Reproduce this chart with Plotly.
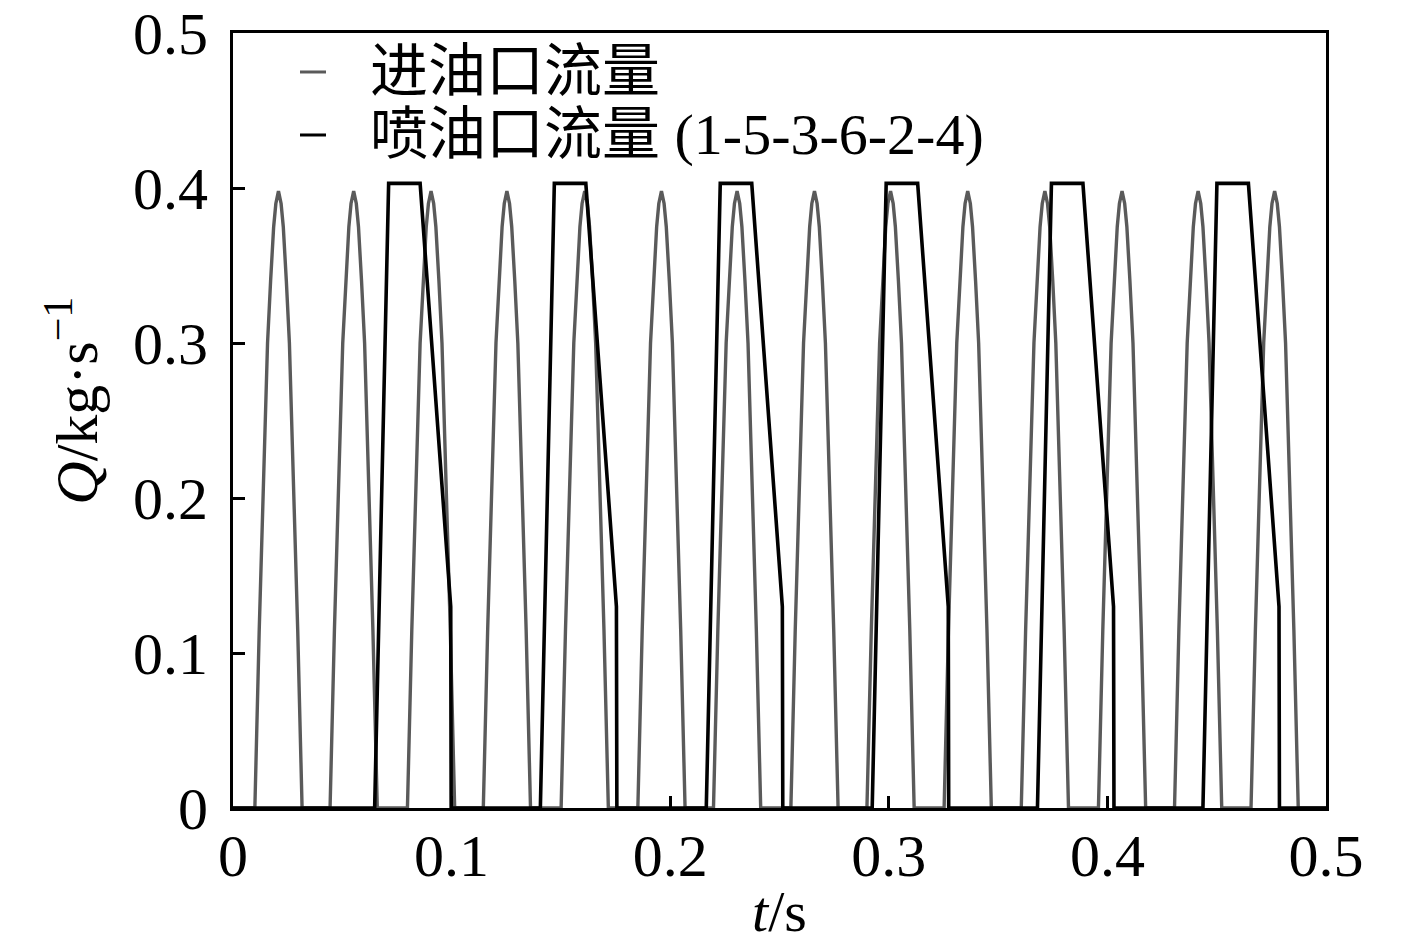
import plotly.graph_objects as go

# gray pulses: peak times, plus one pulse profile
gray_peak_t = [0.0208, 0.0552, 0.0906, 0.1253, 0.1609, 0.1960, 0.2306,
               0.2660, 0.3008, 0.3361, 0.3714, 0.4067, 0.4415, 0.4765]
gray_offset = [-0.0108, -0.0088, -0.0050, -0.0036, -0.0022, -0.0012, 0.0,
               0.0012, 0.0022, 0.0036, 0.0050, 0.0088, 0.0108]
gray_shape = [0.0, 0.115, 0.300, 0.340, 0.375, 0.390, 0.398,
              0.390, 0.375, 0.340, 0.300, 0.115, 0.0]

# black pulses: rise start times, plus one trapezoid-like profile
black_start_t = [0.0648, 0.1406, 0.2165, 0.2924, 0.3680, 0.4437]
black_offset = [0.0, 0.0064, 0.0208, 0.0348, 0.0350]
black_shape = [0.0, 0.403, 0.403, 0.130, 0.0]

names = ['进油口流量', '喷油口流量 (1-5-3-6-2-4)']
colors = ['#5a5a5a', '#000000']


def build(starts, offsets, shape):
    xs, ys = [0.0], [0.0]
    for s in starts:
        for o, v in zip(offsets, shape):
            xs.append(s + o)
            ys.append(v)
    xs.append(0.5)
    ys.append(0.0)
    return xs, ys


gx, gy = build(gray_peak_t, gray_offset, gray_shape)
bx, by = build(black_start_t, black_offset, black_shape)

font_family = 'Liberation Serif, Times New Roman, Noto Sans CJK SC, serif'

fig = go.Figure()
fig.add_trace(go.Scatter(x=gx, y=gy, mode='lines', name=names[0],
                         line=dict(color=colors[0], width=3.4)))
fig.add_trace(go.Scatter(x=bx, y=by, mode='lines', name=names[1],
                         line=dict(color=colors[1], width=3.6)))

# legend drawn by hand so the spacing matches the reference
legend_y = [0.9497, 0.8684]
for name, col, ly in zip(names, colors, legend_y):
    fig.add_shape(type='line', xref='paper', yref='paper',
                  x0=0.0613, x1=0.0851, y0=ly, y1=ly,
                  line=dict(color=col, width=3))
    fig.add_annotation(text=name, xref='paper', yref='paper',
                       x=0.1235, y=ly, xanchor='left', yanchor='middle',
                       showarrow=False, font=dict(size=58))

fig.add_annotation(text='<i>t</i>/s', xref='paper', yref='paper',
                   x=0.5, y=-0.134, xanchor='center', yanchor='middle',
                   showarrow=False, font=dict(size=58))
fig.add_annotation(text='<i>Q</i>/kg·s<sup>−1</sup>', xref='paper', yref='paper',
                   x=-0.147, y=0.526, xanchor='center', yanchor='middle',
                   textangle=-90, showarrow=False, font=dict(size=60))

# page body adds an 8 px offset, so margins are shifted to compensate
fig.update_layout(
    width=1417, height=945,
    margin=dict(l=225, r=99, t=25, b=145),
    paper_bgcolor='white', plot_bgcolor='white',
    font=dict(family=font_family, size=60, color='black'),
    showlegend=False,
)
fig.update_xaxes(
    range=[0, 0.5], dtick=0.1, tick0=0, automargin=False,
    showline=True, linecolor='black', linewidth=3, mirror=True,
    ticks='inside', ticklen=12, tickwidth=3, tickcolor='black',
    showgrid=False, zeroline=False, ticklabeloverflow='allow',
    tickfont=dict(size=60), ticklabelstandoff=-7,
)
fig.update_yaxes(
    range=[0, 0.5], dtick=0.1, tick0=0, automargin=False,
    showline=True, linecolor='black', linewidth=3, mirror=True,
    ticks='inside', ticklen=12, tickwidth=3, tickcolor='black',
    showgrid=False, zeroline=False, ticklabeloverflow='allow',
    tickfont=dict(size=60), ticklabelstandoff=10,
)

fig.write_html("out.html")
